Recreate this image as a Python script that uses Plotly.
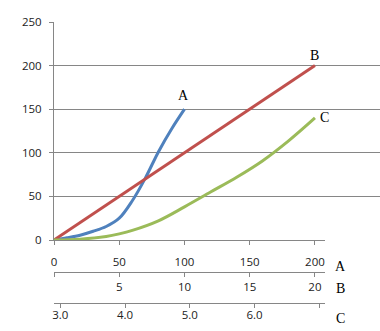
import plotly.graph_objects as go

# Series A (blue): 0..100 on the A scale
a_x = [0, 10, 20, 30, 40, 50, 60, 70, 80, 90, 100]
a_y = [0, 2.5, 5.5, 10, 15.5, 25, 45, 71, 101, 127, 150]

# Series B (red): straight line
b_x = [0, 200]
b_y = [0, 200]

# Series C (green)
c_x = [0, 20, 40, 50, 60, 80, 100, 120, 140, 160, 180, 200]
c_y = [0, 1, 4, 7, 11, 22, 38, 55, 72, 91, 114, 140]

y_ticks = [0, 50, 100, 150, 200, 250]
a_ticks = [0, 50, 100, 150, 200]
b_ticks = [0, 5, 10, 15, 20]
b_labels = ["", "5", "10", "15", "20"]
c_ticks = [3, 4, 5, 6, 7]
c_labels = ["3.0", "4.0", "5.0", "6.0", ""]

W, H = 380, 331
L = 54
plot_w = W - L
axis_end = (325 - L) / plot_w
y_dom = [1 - 240 / H, 1 - 22 / H]

GRID = "#868686"
TICKFONT = dict(family="Open Sans", size=11.5, color="#222222")
SERIF = dict(family="Liberation Serif", size=14, color="#000000")

fig = go.Figure()

line_kw = dict(mode="lines", xaxis="x2", yaxis="y", showlegend=False, hoverinfo="skip")
fig.add_trace(go.Scatter(x=a_x, y=a_y, line=dict(color="#4F81BD", width=3, shape="spline", smoothing=1), **line_kw))
fig.add_trace(go.Scatter(x=b_x, y=b_y, line=dict(color="#C0504D", width=3), **line_kw))
fig.add_trace(go.Scatter(x=c_x, y=c_y, line=dict(color="#9BBB59", width=3, shape="spline", smoothing=1), **line_kw))

# empty traces so the gridline subplot and the extra scales get drawn
for xa, ya in [("x", "y2"), ("x3", "y"), ("x4", "y")]:
    fig.add_trace(go.Scatter(x=[], y=[], xaxis=xa, yaxis=ya, showlegend=False, hoverinfo="skip"))

axis_common = dict(showgrid=False, zeroline=False, showline=True, linecolor=GRID, linewidth=1,
                   ticks="outside", ticklen=4, tickcolor=GRID, tickfont=TICKFONT, fixedrange=True,
                   automargin=False)

fig.update_layout(
    template="none",
    width=W, height=H,
    margin=dict(l=L, r=0, t=0, b=0, autoexpand=False),
    paper_bgcolor="white", plot_bgcolor="rgba(0,0,0,0)",
    xaxis=dict(domain=[0, 1], range=[0, 1], visible=False, anchor="y2", fixedrange=True),
    yaxis2=dict(overlaying="y", range=[0, 250], tickvals=y_ticks[1:], showgrid=True, gridcolor=GRID,
                gridwidth=1, showticklabels=False, zeroline=False, showline=False, ticks="", anchor="x",
                fixedrange=True, automargin=False),
    yaxis=dict(domain=y_dom, range=[0, 250], tickvals=y_ticks, anchor="x2", ticklabelstandoff=5,
               **axis_common),
    xaxis2=dict(domain=[0, axis_end], range=[0, 207.7], tickvals=a_ticks, anchor="y",
                ticklabelstandoff=7, **axis_common),
    xaxis3=dict(domain=[0, axis_end], range=[0, 20.77], tickvals=b_ticks, ticktext=b_labels,
                anchor="free", position=1 - 271.7 / H, ticklabelstandoff=0, **axis_common),
    xaxis4=dict(domain=[0, axis_end], range=[2.903, 7.088], tickvals=c_ticks, ticktext=c_labels,
                anchor="free", position=1 - 303.3 / H, ticklabelstandoff=-3, **axis_common),
)

# series names at the line ends
ends = [("A", a_x[-1], a_y[-1], -1, 14), ("B", b_x[-1], b_y[-1], 0, 10), ("C", c_x[-1], c_y[-1], 10, 0)]
for name, x, y, dx, dy in ends:
    fig.add_annotation(text=name, x=x, y=y, xref="x2", yref="y", xshift=dx, yshift=dy,
                       xanchor="center", yanchor="middle", showarrow=False, font=SERIF)

# scale names to the right of the three horizontal axes
for name, py in [("A", 266), ("B", 288), ("C", 318)]:
    fig.add_annotation(text=name, x=(340 - L) / plot_w, y=1 - py / H, xref="paper", yref="paper",
                       xanchor="center", yanchor="middle", showarrow=False, font=SERIF)

fig.write_html("out.html")
